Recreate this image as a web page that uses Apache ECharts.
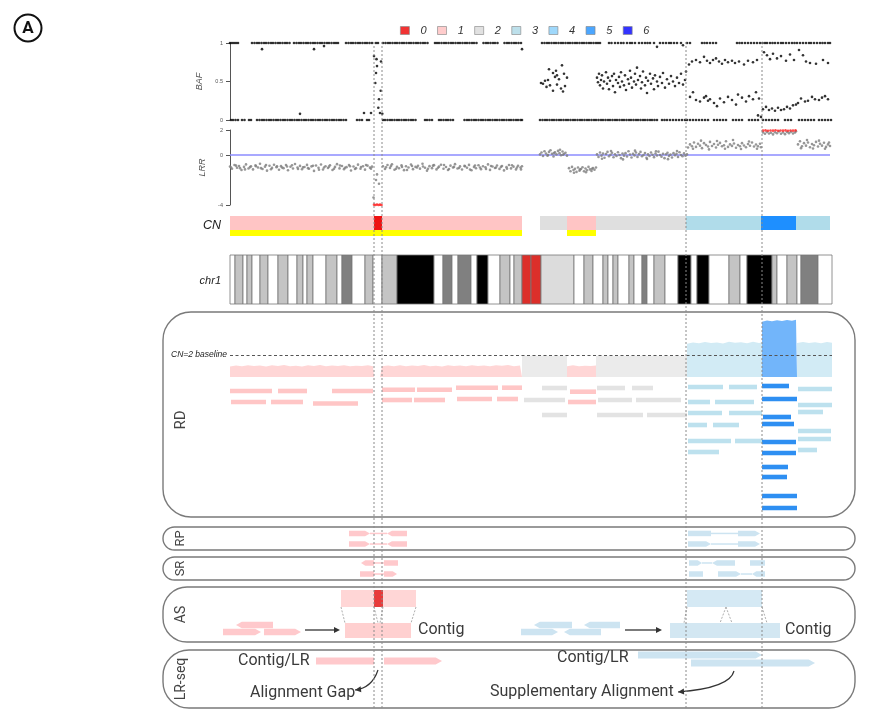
<!DOCTYPE html>
<html><head><meta charset="utf-8">
<script src="https://cdn.jsdelivr.net/npm/echarts@6.0.0/dist/echarts.min.js"></script>
<style>html,body{margin:0;padding:0;background:#fff}#c{width:870px;height:721px}</style>
</head><body><div id="c"></div>
<script>
// ---------- DATA (positions along chr1 in track units, 0..602) ----------
const cnLabels = ['0','1','2','3','4','5','6'];
const legendColors = ['#ee0000','#ffbfbf','#d9d9d9','#add8e6','#87cefa','#1e90ff','#0000ff'];
const breakpoints = [144, 152, 456, 532];

// BAF homozygous SNPs (x positions at BAF = 1 and BAF = 0)
const bafHiX = [0,2,4,6,8,22,24.5,27,29,31.5,34,36,38.5,41,43,45.5,48,50,52.5,55,57,59.5,64,66.5,69,71,73.5,76,78,80.5,83,85,87.5,90,92,94.5,97,99,101.5,104,106,108,116,118.5,121,123,125.5,128,130,132.5,135,137,139.5,142,146,148,153,155.5,158,160,162.5,165,167,169.5,172,174,176.5,179,181,183.5,186,188,190.5,193,195,197.5,205,207,209,211.5,214,216,218.5,221,223,225.5,228,230,232.5,235,237,239.5,242,244,246.5,253.5,256,258,260.5,263,265,267.5,274.5,277,279,281.5,284,286,288.5,291,
  312,314.5,317,319,321.5,324,326,328.5,331,333,335.5,338,340,342.5,345,347,349.5,352,354,356.5,359,361,363.5,366,368,370,379,381.5,385,388,391,393.5,397,400,402,405,409,412,415,417.5,420,424,430,433,436,439,441,444,447,451,457,460,472,474.5,477,480,483,486,507,509.5,512,515,518,521,524,527,530,532.5,535,537,540,542.5,545,548,551,553,556,559,562,564.5,567,570,573,576,579,581,584,587,590,592.5,595,598,600];
const bafLoX = [1,3,5.5,8,12,14.5,19,21,27,29.5,32,34,36.5,39,41,43.5,46,48,50.5,53,55,57.5,60,62,64.5,67,69,71.5,74,76,78.5,81,83,85.5,88,90,92.5,95,97,99.5,102,104,106.5,109,111,113.5,116,127,129.5,132,137,139,153,155,157.5,160,162,164.5,167,169,171.5,174,176,178.5,181,183,185.5,195,197,199.5,202,209,211,213.5,216,218,220.5,223,234.5,237,239,241.5,244,246,248.5,251,253,255.5,258,260,262.5,265,267,269.5,272,274,276.5,279,281,283.5,286,288,290.5,292,
  310,312.5,315,317,319.5,322,324,326.5,329,331,333.5,336,338,340.5,343,345,347.5,350,352,354.5,357,359,361.5,364,366,368.5,371,373,375.5,378,380,382.5,385,387,389.5,392,394,396.5,399,401,403.5,406,408,410.5,413,415,417.5,420,422,424.5,427,432,434.5,437,440,443,446,449,452,455,457,460,463,466,469,472,475,478,484,487,490,493,496,503,506,509,512,519,522,525,528,533,536,539,542,545,548,555,558,561,569,572,575,578,581,584,589,592,595,598,601];
// BAF outliers and heterozygous SNPs [x, BAF]
const bafOther = [[32,.92],[84,.92],[94,.96],[292,.92],[70,.08],[134,.09],[141,.09],[427,.95],[453,.97],[531,.04],[528,.06],
  [144,.83],[146.5,.79],[146,.61],[145.3,.48],[150.7,.38],[151,.76],[148.3,.16],[150,.09],[152.3,.08],[147,.7],[149,.27]];
const bafHetA = [[311,.48],[313,.47],[315,.51],[316.5,.43],[318,.52],[320,.45],[323,.61],[325,.56],[326,.64],[327,.46],[329,.53],[331,.41],[332,.71],[333,.37],[335,.44],[337,.55],[323,.38],[327,.58],[319,.66],[334,.6]];
const bafHetB = [[367,.55],[368,.49],[369,.6],[370,.45],[371,.52],[372,.58],[373,.41],[374,.5],[376,.62],[377,.47],[378,.55],[379,.4],[380,.51],[382,.57],[383,.44],[384,.6],[385,.36],[386,.52],[388,.48],[389,.56],[390,.43],[391,.62],[392,.5],[394,.45],[395,.58],[396,.39],[398,.53],[399,.47],[400,.64],[401,.55],[402,.42],[404,.5],[405,.6],[406,.46],[407,.68],[408,.52],[410,.57],[411,.41],[412,.49],[413,.63],[415,.45],[416,.55],[417,.35],[418,.51],[420,.6],[421,.47],[423,.54],[424,.4],[425,.58],[427,.5],[428,.44],[430,.56],[432,.48],[433,.61],[435,.42],[437,.53],[439,.47],[441,.57],[443,.5],[445,.44],[447,.55],[449,.48],[451,.6],[453,.46],[455,.52],[456,.63]];
const bafHetC = [[459,.72],[462,.76],[466,.78],[470,.75],[474,.82],[477,.77],[480,.74],[483,.78],[486,.8],[489,.76],[492,.73],[495,.78],[498,.75],[502,.77],[505,.74],[509,.76],[514,.72],[518,.77],[523,.75],[527,.78],
  [460,.3],[463,.36],[466,.26],[470,.24],[474,.29],[476,.31],[478,.25],[480,.27],[484,.22],[487,.18],[490,.28],[494,.23],[498,.3],[502,.26],[506,.2],[508,.33],[512,.29],[516,.24],[519,.31],[523,.27],[526,.36],[529,.28]];
const bafHetD = [[534,.88],[537,.84],[540,.79],[543,.86],[547,.8],[551,.83],[556,.77],[560,.85],[564,.78],
  [533,.14],[536,.17],[539,.13],[542,.15],[545,.12],[548,.16],[551,.13],[554,.14],[557,.17],[560,.15],[563,.19],[566,.2],
  [569,.91],[573,.84],[576,.76],[580,.74],[586,.73],[593,.78],[598,.74],
  [568,.22],[571,.28],[575,.24],[578,.25],[582,.3],[585,.27],[589,.26],[592,.29],[595,.31],[598,.27]];

// LRR [x, log R ratio]
const lrrCN1 = [[0,-0.92],[2,-1.1],[4.5,-0.8],[7,-1.02],[9,-0.88],[11.5,-1.2],[14,-0.95],[16,-0.75],[18.5,-1.08],[21,-0.9],[23,-1.15],[25.5,-0.83],[28,-1.0],[30,-0.7],[32.5,-1.12],[35,-0.93],[37,-1.25],[39.5,-0.86],[42,-1.03],[44,-0.78],[46.5,-0.97],[49,-1.18],[51,-0.89],[53.5,-1.05],[56,-0.8],[58,-1.22],[60.5,-0.94],[63,-1.08],[65,-0.72],[67.5,-1.0],[70,-0.87],[72,-1.14],[74.5,-0.96],[77,-0.79],[79,-1.1],[81.5,-0.91],[84,-1.27],[86,-0.84],[88.5,-1.02],[91,-0.76],[93,-1.16],[95.5,-0.9],[98,-1.04],[100,-0.82],[102.5,-1.2],[105,-0.95],[107,-0.73],[109.5,-1.07],[112,-0.88],[114,-1.13],[116.5,-0.97],[119,-0.8],[121,-1.24],[123.5,-0.92],[126,-1.05],[128,-0.77],[130.5,-1.1],[133,-0.9],[135,-1.17],[137.5,-0.85],[140,-1.01],[142,-0.93],
  [143.5,-3.4],[146,-2.0],[147,-1.55],[149,-2.3],
  [153,-0.9],[155,-1.12],[157.5,-0.8],[160,-1.03],[162,-0.74],[164.5,-1.18],[167,-0.94],[169,-1.06],[171.5,-0.83],[174,-1.21],[176,-0.9],[178.5,-1.0],[181,-0.76],[183,-1.13],[185.5,-0.95],[188,-0.86],[190,-1.09],[192.5,-0.7],[195,-1.02],[197,-1.25],[199.5,-0.89],[202,-1.05],[204,-0.81],[206.5,-1.15],[209,-0.93],[211,-0.78],[213.5,-1.1],[216,-0.96],[218,-1.2],[220.5,-0.85],[223,-1.0],[225,-0.73],[227.5,-1.08],[230,-0.91],[232,-1.16],[234.5,-0.87],[237,-1.02],[239,-0.79],[241.5,-1.22],[244,-0.95],[246,-1.06],[248.5,-0.82],[251,-1.13],[253,-0.9],[255.5,-0.98],[258,-0.75],[260,-1.19],[262.5,-0.92],[265,-1.04],[267,-0.84],[269.5,-1.11],[272,-0.88],[274,-1.23],[276.5,-0.97],[279,-0.8],[281,-1.07],[283.5,-0.93],[286,-1.15],[288,-0.86],[290.5,-1.0],[292,-0.9],
  [1,-1.0],[6,-0.85],[10,-1.05],[15,-1.15],[20,-0.97],[26,-0.9],[31,-1.05],[36,-0.8],[41,-1.14],[47,-0.9],[52,-1.0],[57,-0.92],[62,-0.82],[68,-1.12],[73,-0.99],[78,-1.05],[83,-0.86],[89,-1.18],[94,-1.0],[99,-0.93],[104,-1.1],[110,-0.84],[115,-1.02],[120,-0.9],[125,-1.12],[131,-0.96],[136,-0.8],[141,-1.1],[156,-0.98],[161,-0.87],[166,-1.1],[172,-0.95],[177,-1.2],[182,-0.88],[187,-1.0],[193,-0.92],[198,-1.1],[203,-0.85],[208,-1.02],[214,-0.8],[219,-1.12],[224,-0.95],[229,-1.04],[235,-0.9],[240,-1.16],[245,-0.84],[250,-1.0],[256,-1.12],[261,-0.88],[266,-1.0],[271,-0.95],[277,-1.1],[282,-0.82],[287,-1.0],[291,-1.15]];
const lrrRightA = [[310,0.05],[311.5,0.2],[313,-0.08],[314.5,0.3],[316,0.12],[317.5,-0.05],[319,0.25],[320.5,0.38],[322,0.1],[323.5,-0.12],[325,0.22],[326.5,0.05],[328,0.33],[329.5,0.15],[331,-0.02],[332.5,0.28],[334,0.1],[335.5,0.18],[337,-0.05],[318,0.0],[324,0.15],[330,0.42],[333,0.02],
  [339,-1.05],[340.5,-1.3],[342,-0.95],[343.5,-1.2],[345,-1.1],[346.5,-1.35],[348,-1.0],[349.5,-1.25],[351,-1.12],[352.5,-0.98],[354,-1.3],[355.5,-1.08],[357,-1.22],[358.5,-0.95],[360,-1.15],[361.5,-1.28],[363,-1.05],[364.5,-1.18],[366,-1.0],[344,-1.42],[350,-1.15],[356,-1.38],[362,-1.1]];
const lrrRightB = [[367,0.05],[368.5,-0.15],[370,0.2],[371.5,-0.05],[373,0.12],[374.5,-0.22],[376,0.08],[377.5,0.25],[379,-0.1],[380.5,0.02],[382,0.18],[383.5,-0.18],[385,0.06],[386.5,-0.08],[388,0.22],[389.5,0.0],[391,-0.25],[392.5,0.12],[394,-0.05],[395.5,0.15],[397,-0.12],[398.5,0.3],[400,0.04],[401.5,-0.2],[403,0.1],[404.5,-0.03],[406,0.2],[407.5,-0.15],[409,0.07],[410.5,0.25],[412,-0.1],[413.5,0.0],[415,0.16],[416.5,-0.22],[418,0.05],[419.5,-0.08],[421,0.2],[422.5,0.02],[424,-0.17],[425.5,0.12],[427,-0.04],[428.5,0.27],[430,0.0],[431.5,-0.13],[433,0.1],[434.5,-0.25],[436,0.06],[437.5,0.18],[439,-0.07],[440.5,0.03],[442,-0.2],[443.5,0.15],[445,-0.02],[446.5,0.1],[448,-0.15],[449.5,0.22],[451,0.0],[452.5,-0.1],[454,0.13],[455.5,-0.05],[457,0.05],[372,-0.3],[381,0.32],[393,-0.35],[405,0.35],[417,-0.32],[426,0.3],[438,-0.33],[447,0.32],
  [458,0.6],[460,0.85],[462,0.7],[464,1.0],[466,0.65],[468,0.9],[470,0.75],[472,0.55],[474,0.95],[476,0.8],[478,0.68],[480,1.05],[482,0.72],[484,0.88],[486,0.6],[488,0.82],[490,0.97],[492,0.7],[494,0.78],[496,1.1],[498,0.65],[500,0.85],[502,0.73],[504,0.92],[506,0.58],[508,0.8],[510,0.7],[512,0.95],[514,0.76],[516,0.62],[518,0.88],[520,0.74],[522,1.0],[524,0.68],[526,0.84],[528,0.7],[530,0.9],[531,0.62],[463,0.5],[471,1.15],[479,0.45],[487,1.12],[495,0.5],[503,1.2],[511,0.48],[519,1.08],[527,0.5],
  [533,1.8],[535,1.7],[537,1.85],[539,1.72],[541,1.78],[543,1.65],[545,1.82],[547,1.74],[549,1.88],[551,1.7],[553,1.8],[555,1.67],[557,1.84],[559,1.75],[561,1.86],[563,1.72],[565,1.8],[566,1.9],
  [568,0.85],[570,1.1],[572,0.7],[574,0.95],[576,0.75],[578,1.0],[580,0.62],[582,0.88],[584,0.78],[586,1.05],[588,0.68],[590,0.9],[592,0.75],[594,0.98],[596,0.65],[598,0.85],[600,0.72],[571,0.55],[577,1.2],[583,0.52],[589,1.15],[595,0.5],[599,1.0]];
const lrrRed = [[533,1.95],[535.5,1.97],[538,1.94],[540.5,1.96],[543,1.95],[545.5,1.98],[548,1.94],[550.5,1.96],[553,1.95],[555.5,1.97],[558,1.94],[560.5,1.96],[563,1.95],[565.5,1.97],
  [144,-3.97],[145.5,-4],[147,-3.96],[148.5,-4],[150,-3.97],[151.5,-4]];
const lrrReference = 0;

// copy-number segments [start, end, CN] and LOH segments [start, end]
const cnSegments = [[0,144,1],[144,152,0],[152,292,1],[310,337,2],[337,366,1],[366,456,2],[456,531,3],[531,566,5],[566,600,3]];
const lohSegments = [[0,292],[337,366]];

// chr1 ideogram bands [start, end, stain]
const ideoBands = [[0,5,'n'],[5,13,'g25'],[13,17,'n'],[17,22,'g25'],[22,30,'n'],[30,38,'g25'],[38,48,'n'],[48,58,'g25'],[58,67,'n'],[67,73,'g25'],[73,77,'n'],[77,83,'g25'],[83,96,'n'],[96,107,'g25'],[107,112,'n'],[112,122,'g75'],[122,135,'n'],[135,143,'g25'],[143,152,'n'],[152,167,'g25'],[167,204,'g100'],[204,213,'n'],[213,222,'g75'],[222,228,'n'],[228,241,'g75'],[241,247,'n'],[247,258,'g100'],[258,270,'n'],[270,280,'g25'],[280,284,'n'],[284,292,'g25'],[292,301,'acen'],[301,311,'acen'],[311,344,'gvar'],[344,354,'n'],[354,363,'g25'],[363,373,'n'],[373,378,'g25'],[378,383,'n'],[383,388,'g25'],[388,399,'n'],[399,404,'g25'],[404,412,'n'],[412,417,'g75'],[417,424,'n'],[424,435,'g25'],[435,448,'n'],[448,461,'g100'],[461,467,'n'],[467,479,'g100'],[479,499,'n'],[499,510,'g25'],[510,517,'n'],[517,542,'g100'],[542,547,'g25'],[547,557,'n'],[557,567,'g25'],[567,571,'n'],[571,588,'g75'],[588,602,'n']];

// read depth profile [x, depth]; CN=2 baseline at 30
const rdBaseline = 30;
const rdPink1 = [[0,14.2],[6,15.6],[12,14.6],[18,16.1],[24,14.9],[30,15.7],[36,14.3],[42,15.9],[48,15.0],[54,16.2],[60,14.7],[66,15.5],[72,14.2],[78,16.0],[84,15.1],[90,16.2],[96,14.5],[102,15.8],[108,14.9],[114,16.1],[120,14.6],[126,15.4],[132,15.0],[138,15.9],[143,14.7],[144,0]];
const rdPink2 = [[150,0],[152,14.5],[158,15.8],[164,14.8],[170,16.0],[176,14.6],[182,15.6],[188,15.0],[194,16.3],[200,14.7],[206,15.5],[212,14.4],[218,16.0],[224,15.1],[230,15.8],[236,14.6],[242,16.1],[248,15.0],[254,15.6],[260,14.5],[266,15.9],[272,15.2],[278,16.2],[284,14.8],[290,15.6],[292,15.1]];
const rdGrey1 = [[292,29],[337,29]];
const rdPink3 = [[337,14.8],[343,15.9],[349,14.6],[355,15.5],[361,14.9],[366,15.7]];
const rdGrey2 = [[366,29],[457,29]];
const rdLB1 = [[457,45.5],[463,47.2],[469,46.0],[475,47.8],[481,46.3],[487,47.0],[493,45.8],[499,48.0],[505,46.6],[511,47.4],[517,46.1],[523,47.9],[529,46.4],[532,47.0]];
const rdBlue = [[532,75.5],[537,77.0],[542,76.1],[547,77.4],[552,76.3],[557,77.6],[562,76.8],[566,78.0],[567,76.5]];
const rdLB2 = [[567,46.2],[573,47.6],[579,46.5],[585,47.3],[591,46.0],[597,47.8],[602,46.8]];
// aligned reads in RD panel [start, end, stack row, CN]
const rdReads = [[0,42,11,1],[48,77,11,1],[102,143,11,1],[152,185,9.7,1],[187,222,9.7,1],[226,268,7.7,1],[272,292,7.7,1],
  [1,36,22,1],[41,73,22,1],[83,128,23.5,1],[152,182,20,1],[184,215,20,1],[227,262,19,1],[267,288,19,1],[340,366,11.7,1],[338,366,22,1],
  [312,337,8,2],[367,395,8,2],[402,423,8,2],[294,335,20,2],[368,402,20,2],[406,451,20,2],[312,337,35,2],[367,413,35,2],[417,457,35,2],
  [458,493,7,3],[499,527,7,3],[458,480,22,3],[485,524,22,3],[458,492,33,3],[499,532,33,3],[458,477,45,3],[483,509,45,3],[458,501,61,3],[505,532,61,3],[458,489,72,3],
  [532,559,6,5],[532,567,19,5],[533,561,37,5],[532,564,44,5],[532,566,62,5],[532,566,73,5],[532,558,87,5],[532,557,97,5],[532,567,116,5],[532,567,128,5],
  [568,602,9,3],[568,602,25,3],[568,593,32,3],[568,601,51,3],[568,601,59,3],[568,587,70,3]];
// RP / SR reads [start, end, lane, direction, colour]  (0 pink, 1 blue)
const rpReads = [[119,140,0.28,1,0],[157,177,0.28,-1,0],[119,140,0.74,1,0],[157,177,0.74,-1,0],[458,481,0.28,0,1],[508,530,0.28,1,1],[458,481,0.74,1,1],[508,530,0.74,1,1]];
const rpLinks = [[140,157,0.28,0],[140,157,0.74,0],[481,508,0.28,1],[481,508,0.74,1]];
const srReads = [[131,144,0.26,-1,0],[154,168,0.26,0,0],[130,144,0.74,0,0],[154,167,0.74,1,0],[459,472,0.26,1,1],[482,505,0.26,-1,1],[520,535,0.26,0,1],[459,473,0.74,0,1],[488,511,0.74,1,1],[522,535,0.74,-1,1]];
const srLinks = [[144,154,0.26,0],[144,154,0.74,0],[472,482,0.26,1],[511,522,0.74,1]];
// AS: blocks [start, end, yTop, yBottom, style], reads, guides, arrows
const asBlocks = [[111,186,3,20,0],[144,153,3,20,1],[115,181,36,51,2],[457,532,3,20,3],[440,550,36,51,4]];
const asReads = [[6,43,38,-1,0],[-7,31,45,1,0],[34,71,45,1,0],[304,342,38,-1,1],[354,390,38,-1,1],[291,328,45,1,1],[334,371,45,-1,1]];
const asGuides = [[111,20,115,36],[186,20,181,36],[144,20,148,36],[153,20,150,36],[457,20,454,36],[532,20,537,36],[496,20,490,36],[496,20,502,36]];
const asArrows = [[75,110,43],[395,432,43]];
const asLabelPos = [[188,43],[555,43]];
const asLabelText = ['Contig','Contig'];
// LR-seq
const lrReads = [[86,144,11,0,0],[154,212,11,1,0],[408,532,5,1,1],[461,585,13,1,1]];
const lrCurves = [[148,20,142,38,125,40],[504,21,500,38,448,42]];
const lrLabelPos = [[8,11],[327,8],[20,43],[260,42]];
const lrLabelText = ['Contig/LR','Contig/LR','Alignment Gap','Supplementary Alignment'];

// ---------- STYLE ----------
const cnTrackColor = {0:'#ee1111',1:'#ffc5c5',2:'#dfdfdf',3:'#b0dcea',5:'#1e8fff'};
const readColorByCN = {1:'#ffc6c6',2:'#e3e3e3',3:'#bde1ee',5:'#2e8ff2'};
const stainColor = {n:'#ffffff',g25:'#c4c4c4',g75:'#808080',g100:'#000000',acen:'#dc2f2a',gvar:'#dcdcdc'};
const svColor = ['#ffc9cc','#cde4f1'];
const asBlockColor = ['#ffd6d6','#e83a3a','#ffd0d0','#d5e9f4','#d3e7f2'];
const TXT = '#3a3a3a';

const gridDefs = [
  {top:43,height:77},{top:130,height:75},{top:216,height:20},{top:255,height:49},
  {top:315,height:62},{top:380,height:135},{top:527,height:23},{top:557,height:23},
  {top:587,height:55,wide:true},{top:650,height:58,wide:true},{top:40,height:668}];
const panels = [
  {label:'RD',y1:312,y2:517,r:28,fs:15,ly:420},{label:'RP',y1:527,y2:550,r:11.5,fs:13},
  {label:'SR',y1:557,y2:580,r:11.5,fs:13},{label:'AS',y1:587,y2:642,r:24,fs:14},
  {label:'LR-seq',y1:650,y2:708,r:26,fs:14}];

function rectFrom(api,x1,x2,y1,y2,style){
  const a=api.coord([x1,y1]), b=api.coord([x2,y2]);
  return {type:'rect',shape:{x:Math.min(a[0],b[0]),y:Math.min(a[1],b[1]),width:Math.abs(b[0]-a[0]),height:Math.abs(b[1]-a[1])},style:style};
}
function readPoly(api,s,e,y,dir,h,fill){
  const a=api.coord([s,y]), b=api.coord([e,y]);
  const x1=a[0],x2=b[0],yc=a[1],t=Math.min(h*0.9,(x2-x1)/3),yt=yc-h/2,yb=yc+h/2;
  let pts;
  if(dir>0) pts=[[x1,yt],[x2-t,yt],[x2,yc],[x2-t,yb],[x1,yb]];
  else if(dir<0) pts=[[x1+t,yt],[x2,yt],[x2,yb],[x1+t,yb],[x1,yc]];
  else pts=[[x1,yt],[x2,yt],[x2,yb],[x1,yb]];
  return {type:'polygon',shape:{points:pts},style:{fill:fill}};
}
function readSeries(idx,data,h){
  return {type:'custom',xAxisIndex:idx,yAxisIndex:idx,data:data,silent:true,z:5,
    renderItem:(p,api)=>readPoly(api,api.value(0),api.value(1),api.value(2),api.value(3),h,svColor[api.value(4)])};
}
function linkSeries(idx,data){
  return {type:'custom',xAxisIndex:idx,yAxisIndex:idx,data:data,silent:true,z:4,
    renderItem:(p,api)=>{const a=api.coord([api.value(0),api.value(2)]),b=api.coord([api.value(1),api.value(2)]);
      return {type:'line',shape:{x1:a[0],y1:a[1],x2:b[0],y2:b[1]},style:{stroke:svColor[api.value(3)],lineWidth:1.5}};}};
}
function textSeries(idx,pos,texts){
  return {type:'custom',xAxisIndex:idx,yAxisIndex:idx,data:pos,silent:true,z:6,
    renderItem:(p,api)=>{const c=api.coord([api.value(0),api.value(1)]);
      return {type:'text',x:c[0],y:c[1],style:{text:texts[p.dataIndex],fontSize:16,fontFamily:'Roboto',fill:TXT,align:'left',verticalAlign:'middle'}};}};
}
function arrowHead(tip,ang,L,W,fill){
  const bx=tip[0]-L*Math.cos(ang), by=tip[1]-L*Math.sin(ang);
  const nx=-Math.sin(ang)*W, ny=Math.cos(ang)*W;
  return {type:'polygon',shape:{points:[tip,[bx+nx,by+ny],[bx-nx,by-ny]]},style:{fill:fill}};
}
const FONT='Liberation Sans';
const sc = (idx,data,color,size,z)=>({type:'scatter',xAxisIndex:idx,yAxisIndex:idx,data:data,symbolSize:size,silent:true,itemStyle:{color:color},z:z||2});
const area = (data,color)=>({type:'line',xAxisIndex:4,yAxisIndex:4,data:data,symbol:'none',showSymbol:false,silent:true,lineStyle:{width:0},areaStyle:{color:color,opacity:1},z:2});

const series = [];
// BAF
series.push(sc(0,bafHiX.map(x=>[x,1]),'#000',2.6));
series.push(sc(0,bafLoX.map(x=>[x,0]),'#000',2.6));
series.push(sc(0,bafOther.concat(bafHetA,bafHetB,bafHetC,bafHetD),'#000',2.6));
// LRR reference line (drawn below the points)
series.push({type:'custom',xAxisIndex:1,yAxisIndex:1,data:[[lrrReference]],silent:true,z:1,
  renderItem:(p,api)=>{const a=api.coord([0,api.value(0)]),b=api.coord([600,api.value(0)]);
    return {type:'line',shape:{x1:a[0],y1:a[1],x2:b[0],y2:b[1]},style:{stroke:'#8c8cff',lineWidth:1.6}};}});
series.push(sc(1,lrrCN1.concat(lrrRightA,lrrRightB),'#7d7d7d',2.6));
series.push(sc(1,lrrRed,'#ff2020',2.6,3));
// CN track
series.push({type:'custom',xAxisIndex:2,yAxisIndex:2,data:cnSegments,silent:true,
  renderItem:(p,api)=>rectFrom(api,api.value(0),api.value(1),0.3,1,{fill:cnTrackColor[api.value(2)]})});
series.push({type:'custom',xAxisIndex:2,yAxisIndex:2,data:lohSegments,silent:true,
  renderItem:(p,api)=>rectFrom(api,api.value(0),api.value(1),0,0.3,{fill:'#ffff00'})});
// ideogram
series.push({type:'custom',xAxisIndex:3,yAxisIndex:3,data:ideoBands.map(b=>[b[0],b[1]]),silent:true,
  renderItem:(p,api)=>rectFrom(api,api.value(0),api.value(1),0,1,{fill:stainColor[ideoBands[p.dataIndex][2]],stroke:'#777',lineWidth:0.8})});
// RD profile
series.push(area(rdPink1,'#ffd6d6'));
series.push(area(rdPink2,'#ffd6d6'));
const g1 = area(rdGrey1,'#ebebeb');
g1.z = 3;
g1.markLine = {silent:true,symbol:'none',animation:false,data:[{yAxis:rdBaseline}],
  lineStyle:{type:[3,2.5],color:'#555',width:1.2},
  label:{show:true,position:'start',formatter:'CN=2 baseline',fontSize:8.5,fontStyle:'italic',color:'#222',fontFamily:FONT,distance:3}};
series.push(g1);
series.push(area(rdPink3,'#ffd6d6'));
series.push(area(rdGrey2,'#ebebeb'));
series.push(area(rdLB1,'#d2ebf5'));
series.push(area(rdBlue,'#72b5fa'));
series.push(area(rdLB2,'#d2ebf5'));
series.push({type:'custom',xAxisIndex:5,yAxisIndex:5,data:rdReads,silent:true,
  renderItem:(p,api)=>{const a=api.coord([api.value(0),api.value(2)]),b=api.coord([api.value(1),api.value(2)]);
    return {type:'rect',shape:{x:a[0],y:a[1]-2.3,width:b[0]-a[0],height:4.6},style:{fill:readColorByCN[api.value(3)]}};}});
// RP, SR
series.push(linkSeries(6,rpLinks)); series.push(readSeries(6,rpReads,5.5));
series.push(linkSeries(7,srLinks)); series.push(readSeries(7,srReads,5.5));
// AS
series.push({type:'custom',xAxisIndex:8,yAxisIndex:8,data:asBlocks,silent:true,z:3,
  renderItem:(p,api)=>rectFrom(api,api.value(0),api.value(1),api.value(2),api.value(3),{fill:asBlockColor[api.value(4)]})});
series.push({type:'custom',xAxisIndex:8,yAxisIndex:8,data:asGuides,silent:true,z:4,
  renderItem:(p,api)=>{const a=api.coord([api.value(0),api.value(1)]),b=api.coord([api.value(2),api.value(3)]);
    return {type:'line',shape:{x1:a[0],y1:a[1],x2:b[0],y2:b[1]},style:{stroke:'#999',lineWidth:0.8,lineDash:[2,1.5]}};}});
series.push(readSeries(8,asReads,6.5));
series.push({type:'custom',xAxisIndex:8,yAxisIndex:8,data:asArrows,silent:true,z:4,
  renderItem:(p,api)=>{const a=api.coord([api.value(0),api.value(2)]),b=api.coord([api.value(1),api.value(2)]);
    return {type:'group',children:[{type:'line',shape:{x1:a[0],y1:a[1],x2:b[0]-5,y2:b[1]},style:{stroke:'#333',lineWidth:1.3}},arrowHead(b,0,6,3,'#333')]};}});
series.push(textSeries(8,asLabelPos,asLabelText));
// LR-seq
series.push(readSeries(9,lrReads,7));
series.push({type:'custom',xAxisIndex:9,yAxisIndex:9,data:lrCurves,silent:true,z:4,
  renderItem:(p,api)=>{const p1=api.coord([api.value(0),api.value(1)]),pc=api.coord([api.value(2),api.value(3)]),p2=api.coord([api.value(4),api.value(5)]);
    const ang=Math.atan2(p2[1]-pc[1],p2[0]-pc[0]);
    return {type:'group',children:[{type:'bezierCurve',shape:{x1:p1[0],y1:p1[1],cpx1:pc[0],cpy1:pc[1],x2:p2[0],y2:p2[1]},style:{stroke:'#333',lineWidth:1.2,fill:'none'}},arrowHead(p2,ang,6,3,'#333')]};}});
series.push(textSeries(9,lrLabelPos,lrLabelText));
// breakpoint guides
series.push({type:'custom',xAxisIndex:10,yAxisIndex:10,data:breakpoints.map(b=>[b]),silent:true,z:20,
  renderItem:(p,api)=>{const a=api.coord([api.value(0),0]),b=api.coord([api.value(0),1]);
    return {type:'line',shape:{x1:a[0],y1:a[1],x2:b[0],y2:b[1]},style:{stroke:'#8a8a8a',lineWidth:1,lineDash:[2,2]}};}});
// legend series
cnLabels.forEach((n,i)=>series.push({name:n,type:'scatter',xAxisIndex:10,yAxisIndex:10,data:[],itemStyle:{color:legendColors[i]}}));

const hiddenY = (i,min,max,inv)=>({type:'value',gridIndex:i,min:min,max:max,inverse:!!inv,show:false});
const option = {
  animation:false,
  backgroundColor:'#fff',
  grid: gridDefs.map(g=>({left:g.wide?200:230,top:g.top,width:g.wide?632:602,height:g.height})),
  xAxis: gridDefs.map((g,i)=>({type:'value',gridIndex:i,min:g.wide?-30:0,max:602,show:false})),
  yAxis: [
    {type:'value',gridIndex:0,min:0,max:1,interval:0.5,name:'BAF',nameLocation:'middle',nameGap:20,
      nameTextStyle:{fontStyle:'italic',fontSize:9,color:'#555',fontFamily:FONT},
      axisLine:{show:true,onZero:false,lineStyle:{color:'#555',width:1}},axisTick:{show:true,length:4,lineStyle:{color:'#555'}},
      axisLabel:{fontSize:5.5,color:'#555',margin:7,fontFamily:FONT},splitLine:{show:false}},
    {type:'value',gridIndex:1,min:-4,max:2,interval:2,name:'LRR',nameLocation:'middle',nameGap:20,
      nameTextStyle:{fontStyle:'italic',fontSize:9,color:'#555',fontFamily:FONT},
      axisLine:{show:true,onZero:false,lineStyle:{color:'#555',width:1}},axisTick:{show:true,length:4,customValues:[-4,0,2],lineStyle:{color:'#555'}},
      axisLabel:{fontSize:5.5,color:'#555',margin:7,fontFamily:FONT,customValues:[-4,0,2],formatter:v=>v===-2?'':String(v)},splitLine:{show:false}},
    hiddenY(2,0,1), hiddenY(3,0,1), hiddenY(4,0,62/11*15), hiddenY(5,0,135,true),
    hiddenY(6,0,1,true), hiddenY(7,0,1,true), hiddenY(8,0,55,true), hiddenY(9,0,58,true), hiddenY(10,0,1)
  ],
  legend:{top:20,left:395,itemWidth:9,itemHeight:8,itemGap:10.5,icon:'rect',selectedMode:false,data:cnLabels,
    formatter:n=>'  '+n,itemStyle:{borderColor:'#888',borderWidth:0.8},
    textStyle:{fontStyle:'italic',fontSize:11,color:'#333',fontFamily:FONT}},
  graphic: [
    {type:'circle',shape:{cx:28,cy:28,r:13.5},style:{fill:'#fff',stroke:'#111',lineWidth:2}},
    {type:'text',x:28,y:29,style:{text:'A',fontSize:17,fontWeight:'bold',fontFamily:'Roboto',fill:'#111',align:'center',verticalAlign:'middle'}},
    {type:'text',x:221,y:226,style:{text:'CN',fontSize:12.5,fontStyle:'italic',fontFamily:FONT,fill:'#222',align:'right',verticalAlign:'middle'}},
    {type:'text',x:221,y:281,style:{text:'chr1',fontSize:11,fontStyle:'italic',fontFamily:FONT,fill:'#222',align:'right',verticalAlign:'middle'}}
  ].concat(panels.map(pn=>({type:'rect',z:1,shape:{x:163,y:pn.y1,width:692,height:pn.y2-pn.y1,r:pn.r},style:{fill:'none',stroke:'#7a7a7a',lineWidth:1.4}})))
   .concat(panels.map(pn=>({type:'text',z:30,x:181,y:pn.ly||(pn.y1+pn.y2)/2,rotation:Math.PI/2,
      style:{text:pn.label,fontSize:pn.fs,fontFamily:'Roboto',fill:'#444',align:'center',verticalAlign:'middle'}}))),
  series: series
};
const chart = echarts.init(document.getElementById('c'),null,{renderer:'canvas'});
chart.setOption(option);
</script></body></html>
